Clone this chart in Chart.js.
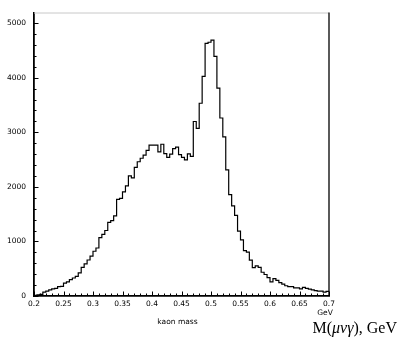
<!DOCTYPE html>
<html>
<head>
<meta charset="utf-8">
<script src="https://cdn.jsdelivr.net/npm/chart.js@4.4.1/dist/chart.umd.min.js"></script>
<style>
  html, body { margin: 0; padding: 0; background: #fff; }
  #wrap { width: 398px; height: 352px; }
</style>
</head>
<body>
<div id="wrap"><canvas id="massChart" width="398" height="352"></canvas></div>
<script>
// --- Data ---
// histogram of the kaon mass, 100 bins of 0.005 GeV from 0.2 to 0.7
const binStart = 0.2;
const binWidth = 0.005;
const counts = [
    10, 20, 30, 70, 90, 113, 130, 141, 171, 175,
    235, 259, 300, 330, 360, 423, 523, 590, 660, 730,
    820, 880, 1068, 1130, 1200, 1350, 1380, 1470, 1772, 1790,
    1908, 2019, 2200, 2165, 2358, 2460, 2524, 2582, 2670, 2763,
    2763, 2763, 2640, 2781, 2610, 2540, 2600, 2700, 2728, 2590,
    2540, 2494, 2605, 2560, 3198, 3070, 3532, 4025, 4629, 4650,
    4689, 4390, 3808, 3262, 2916, 2312, 1857, 1650, 1478, 1190,
    1030, 830, 804, 658, 520, 553, 523, 435, 394, 335,
    260, 320, 285, 246, 218, 188, 171, 171, 148, 148,
    130, 158, 140, 125, 113, 100, 88, 88, 70, 85
];

// axis ranges and tick labels
const xRange = [0.2, 0.7];
const xTicks = [0.2, 0.25, 0.3, 0.35, 0.4, 0.45, 0.5, 0.55, 0.6, 0.65, 0.7];
const xMinorStep = 0.01;
const yRange = [0, 5195];
const yTicks = [0, 1000, 2000, 3000, 4000, 5000];
const yMinorStep = 200;

// texts
const xTitle = 'kaon mass';
const xUnit = 'GeV';
const massLabel = ['M(', 'μνγ', '), GeV'];

// --- Build step points (left edge of every bin + closing edge) ---
const points = counts.map((c, i) => ({ x: binStart + i * binWidth, y: c }));
points.push({ x: binStart + counts.length * binWidth, y: counts[counts.length - 1] });

const tickFont = { family: 'DejaVu Sans', size: 7.5 };

// inward ticks, frame and the extra labels
const framePlugin = {
    id: 'frame',
    afterDraw(chart) {
        const { ctx, chartArea: a, scales } = chart;
        const xs = scales.x, ys = scales.y;
        ctx.save();

        // top (grey) and right (black) frame lines
        ctx.strokeStyle = '#c8c8c8';
        ctx.lineWidth = 1;
        ctx.beginPath();
        ctx.moveTo(a.left, a.top + 0.5);
        ctx.lineTo(a.right, a.top + 0.5);
        ctx.stroke();
        ctx.strokeStyle = '#000';
        ctx.lineWidth = 1.3;
        ctx.beginPath();
        ctx.moveTo(a.right, a.top);
        ctx.lineTo(a.right, a.bottom);
        ctx.stroke();

        // ticks pointing into the plot: long ones at the labels, short ones between
        ctx.lineWidth = 1;
        ctx.beginPath();
        const nx = Math.round((xRange[1] - xRange[0]) / xMinorStep);
        for (let i = 0; i <= nx; i++) {
            const v = xRange[0] + i * xMinorStep;
            const px = Math.round(xs.getPixelForValue(v)) + 0.5;
            const major = xTicks.some(t => Math.abs(t - v) < 1e-6);
            ctx.moveTo(px, a.bottom);
            ctx.lineTo(px, a.bottom - (major ? 4.5 : 2.5));
        }
        const ny = Math.floor(yRange[1] / yMinorStep);
        for (let i = 0; i <= ny; i++) {
            const v = yRange[0] + i * yMinorStep;
            const py = Math.round(ys.getPixelForValue(v)) + 0.5;
            const major = yTicks.includes(v);
            ctx.moveTo(a.left, py);
            ctx.lineTo(a.left + (major ? 4.5 : 2.5), py);
        }
        ctx.stroke();

        // axis texts
        ctx.fillStyle = '#000';
        ctx.textBaseline = 'middle';
        ctx.textAlign = 'center';
        ctx.font = '7.5px "DejaVu Sans"';
        ctx.fillText(xUnit, xs.getPixelForValue(xRange[1]) - 4, a.bottom + 17);
        ctx.fillText(xTitle, (a.left + a.right) / 2 - 4, a.bottom + 26);

        // M(μνγ), GeV in a serif face with the greek part in italic
        const fonts = ['16px "Liberation Serif"', 'italic 16px "Liberation Serif"', '16px "Liberation Serif"'];
        let total = 0;
        massLabel.forEach((s, i) => { ctx.font = fonts[i]; total += ctx.measureText(s).width; });
        let x = chart.width - 1 - total;
        ctx.textAlign = 'left';
        massLabel.forEach((s, i) => {
            ctx.font = fonts[i];
            ctx.fillText(s, x, a.bottom + 33);
            x += ctx.measureText(s).width;
        });
        ctx.restore();
    }
};

// --- Chart ---
const ctx = document.getElementById('massChart').getContext('2d');
new Chart(ctx, {
    type: 'line',
    data: {
        datasets: [{
            data: points,
            stepped: 'before',
            borderColor: '#000',
            borderWidth: 1.2,
            pointRadius: 0,
            fill: false
        }]
    },
    options: {
        responsive: false,
        animation: false,
        layout: { padding: { top: 1, right: 69, bottom: 0, left: 0 } },
        plugins: { legend: { display: false }, tooltip: { enabled: false } },
        scales: {
            x: {
                type: 'linear',
                min: xRange[0],
                max: xRange[1],
                grid: { display: false, drawTicks: false },
                border: { display: true, color: '#000', width: 1.8 },
                ticks: {
                    autoSkip: false,
                    maxRotation: 0,
                    padding: 4,
                    color: '#000',
                    font: tickFont,
                    callback: v => String(+v.toFixed(2))
                },
                afterBuildTicks: s => { s.ticks = xTicks.map(v => ({ value: v })); },
                afterFit: s => { s.height = 56; }
            },
            y: {
                min: yRange[0],
                max: yRange[1],
                grid: { display: false, drawTicks: false },
                border: { display: true, color: '#000', width: 1.8 },
                ticks: {
                    padding: 8,
                    color: '#000',
                    font: tickFont,
                    callback: v => String(v)
                },
                afterBuildTicks: s => { s.ticks = yTicks.map(v => ({ value: v })); },
                afterFit: s => { s.width = 34; }
            }
        }
    },
    plugins: [framePlugin]
});
</script>
</body>
</html>
